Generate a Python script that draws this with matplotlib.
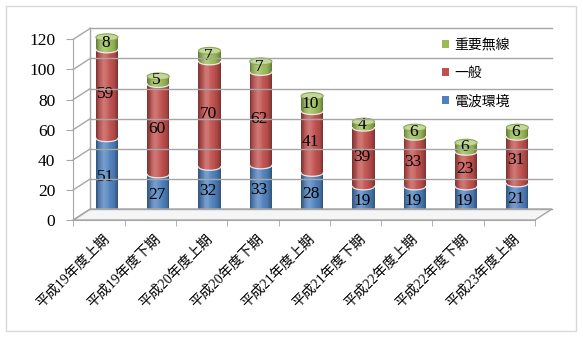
import numpy as np
import matplotlib
matplotlib.use('Agg')
import matplotlib.pyplot as plt
from matplotlib.transforms import ScaledTranslation, IdentityTransform
from matplotlib.patches import Ellipse, Polygon, Rectangle, Patch
from matplotlib.lines import Line2D
import matplotlib.colors as mcolors

# ---------------- data ----------------
categories = ['平成19年度上期', '平成19年度下期', '平成20年度上期', '平成20年度下期',
              '平成21年度上期', '平成21年度下期', '平成22年度上期', '平成22年度下期',
              '平成23年度上期']
denpa = [51, 27, 32, 33, 28, 19, 19, 19, 21]      # 電波環境
ippan = [59, 60, 70, 62, 41, 39, 33, 23, 31]      # 一般
juyo = [8, 5, 7, 7, 10, 4, 6, 6, 6]               # 重要無線
series_names = ['電波環境', '一般', '重要無線']
yticks = [0, 20, 40, 60, 80, 100, 120]

colors = ['#4F81BD', '#C0504D', '#9BBB59']
cap_color = '#C3D69B'
cap_edge = '#8CA850'
grid_c = '#A6A6A6'

plt.rcParams['font.family'] = ['Liberation Serif', 'Noto Sans CJK JP']

W, H = 583, 338
fig = plt.figure(figsize=(W / 100, H / 100), dpi=100)
fig.patch.set_facecolor('white')

# front plane of the plot area
ax = fig.add_axes([73.3 / W, (H - 220) / H, 461.7 / W, 180.7 / H])
n = len(categories)
ax.set_xlim(-0.5, n - 0.5)
ax.set_ylim(0, 120)
ax.patch.set_visible(False)
for s in ['top', 'right']:
    ax.spines[s].set_visible(False)
ax.spines['left'].set_color(grid_c)
ax.spines['bottom'].set_color(grid_c)
ax.set_yticks(yticks)
ax.set_yticklabels([str(v) for v in yticks], fontsize=12.5)
ax.tick_params(axis='y', length=5, color=grid_c, pad=8, labelcolor='black')
ax.set_xticks(np.arange(-0.5, n), minor=True)
ax.set_xticks([])
ax.tick_params(axis='x', which='minor', length=4, color=grid_c, direction='out')

back = ax.transData + ScaledTranslation(0.17, 0.11, fig.dpi_scale_trans)
mid = ax.transData + ScaledTranslation(0.08, 0.05, fig.dpi_scale_trans)


def disp(xd, yd, tr):
    return tr.transform((xd, yd))


def dline(p, q, **kw):
    l = Line2D([p[0], q[0]], [p[1], q[1]], transform=IdentityTransform(), **kw)
    fig.add_artist(l)


x0, x1 = -0.5, n - 0.5
# floor
floor = Polygon([disp(x0, 0, ax.transData), disp(x1, 0, ax.transData),
                 disp(x1, 0, back), disp(x0, 0, back)],
                closed=True, transform=IdentityTransform(), facecolor='#F5F5F5',
                edgecolor=grid_c, linewidth=1, zorder=1)
fig.add_artist(floor)

# back wall grid + left wall connectors
for v in yticks:
    dline(disp(x0, v, back), disp(x1, v, back), color=grid_c, lw=1, zorder=1.5)
    dline(disp(x0, v, ax.transData), disp(x0, v, back), color=grid_c, lw=1, zorder=1.5)
dline(disp(x0, 0, back), disp(x0, 120, back), color=grid_c, lw=1, zorder=1.5)

# ---------------- cylinders ----------------
xs = np.arange(n)
w = 0.43
eh = 4.6
nsl = 26
segs = [np.array(denpa, float), np.array(ippan, float), np.array(juyo, float)]
bottoms = np.zeros(n)

# floor shadows
for xi in xs:
    for k, a in enumerate([0.10, 0.10, 0.10]):
        e = Ellipse((xi + 0.22 + 0.06 * k, 0.6), 0.55 - 0.12 * k, 3.6 - 0.8 * k,
                    transform=mid, facecolor='#808080', alpha=a, lw=0, zorder=2,
                    clip_on=False)
        ax.add_patch(e)


def shade(base, u):
    rgb = np.array(mcolors.to_rgb(base))
    dark = 1 - 0.38 * np.abs(u) ** 3
    c = rgb * dark
    hl = 0.22 * np.exp(-((u + 0.25) / 0.38) ** 2)
    c = c + (1 - c) * hl
    return np.clip(c, 0, 1)


for si, vals in enumerate(segs):
    tops = bottoms + vals
    for i in range(nsl):
        u = (i + 0.5) / nsl * 2 - 1
        dy = (eh / 2) * np.sqrt(max(0.0, 1 - u * u))
        ax.bar(xs + u * w / 2, vals, width=w / nsl * 1.15, bottom=bottoms - dy,
               color=shade(colors[si], u), linewidth=0, transform=mid,
               clip_on=False, zorder=3)
    # light rim at the segment's lower edge (between segments)
    if si > 0:
        uu = np.linspace(-1, 1, 40)
        for xi, b in zip(xs, bottoms):
            l = Line2D(xi + uu * w / 2, b - (eh / 2) * np.sqrt(1 - uu ** 2),
                       transform=mid, color='#F4F4F4', lw=0.9, alpha=0.9,
                       zorder=3.5, clip_on=False)
            ax.add_line(l)
    # data labels
    for xi, b, v in zip(xs, bottoms, vals):
        ax.text(xi - 0.03, b + v / 2, f'{int(v)}', transform=mid, ha='center',
                va='center', fontsize=12.5, color='black', zorder=6,
                family=['Liberation Serif'])
    bottoms = tops

# top caps
for xi, t in zip(xs, bottoms):
    e = Ellipse((xi, t), w, eh, transform=mid, facecolor=cap_color,
                edgecolor=cap_edge, lw=0.8, zorder=4, clip_on=False)
    ax.add_patch(e)

# category labels
lab_tr = ax.transData + ScaledTranslation(0.04, -0.12, fig.dpi_scale_trans)
for xi, c in zip(xs, categories):
    ax.text(xi, 0, c, transform=lab_tr, rotation=45, rotation_mode='anchor',
            ha='right', va='top', fontsize=10, color='black', clip_on=False)

# legend
handles = [Patch(facecolor=colors[2]), Patch(facecolor=colors[1]), Patch(facecolor=colors[0])]
labels = [series_names[2], series_names[1], series_names[0]]
fig.legend(handles, labels, loc='upper left', bbox_to_anchor=(442 / W, 1 - 38 / H),
           frameon=False, handlelength=0.5, handleheight=0.5, borderpad=0,
           borderaxespad=0, handletextpad=0.4, labelspacing=1.02,
           prop={'family': ['Noto Sans CJK JP'], 'size': 10})

# outer frame
fig.add_artist(Rectangle((5.5 / W, (H - 330.5) / H), 570 / W, 325 / H,
                         transform=fig.transFigure, fill=False,
                         edgecolor='#D9D9D9', lw=1))

fig.savefig('out.png', dpi=100, facecolor='white')
